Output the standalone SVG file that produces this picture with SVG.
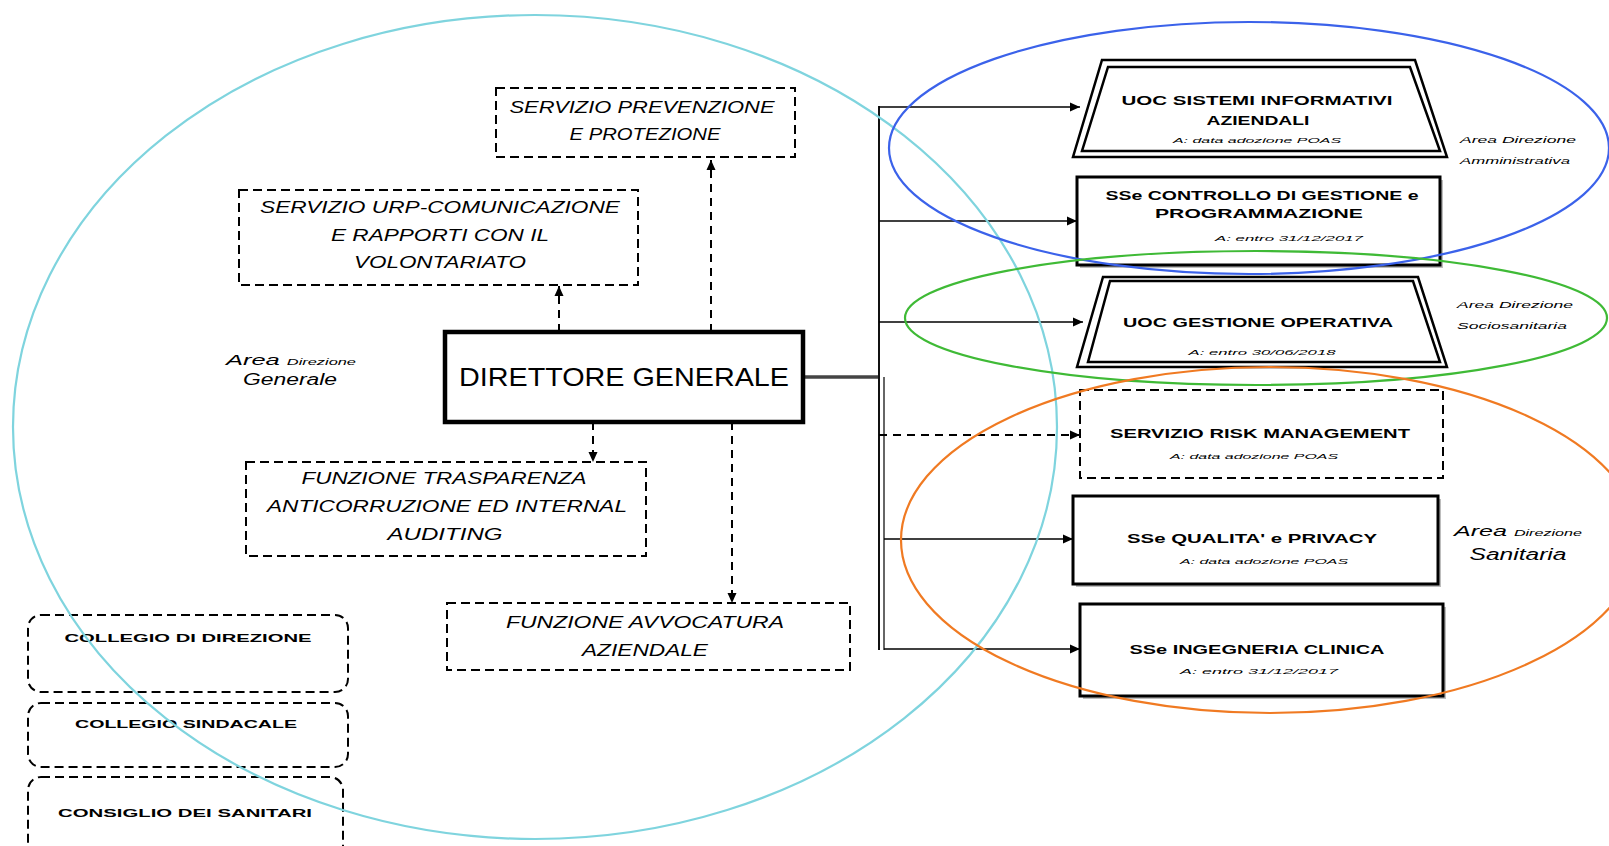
<svg xmlns="http://www.w3.org/2000/svg" width="1609" height="846" viewBox="0 0 1609 846">
<defs>
<marker id="arr" markerUnits="userSpaceOnUse" markerWidth="10" markerHeight="10" refX="10" refY="5" orient="auto">
<path d="M0,0.5 L10,5 L0,9.5 z" fill="#000"/>
</marker>
<style>
.box{fill:#fff;stroke:#000;stroke-width:3}
.dbox{fill:#fff;stroke:#000;stroke-width:2;stroke-dasharray:9 5}
.shadow{fill:#bdbdbd}
.trap{fill:#fff;stroke:#000;stroke-width:2.5}
.trapin{fill:none;stroke:#000;stroke-width:2.5}
.t{font-family:"Liberation Sans",Arial,sans-serif;font-weight:bold;font-size:13px;text-anchor:middle;fill:#000}
.s{font-family:"Liberation Sans",Arial,sans-serif;font-style:italic;font-size:7.5px;text-anchor:middle;fill:#000}
.l{font-family:"Liberation Sans",Arial,sans-serif;font-style:italic;font-size:16px;text-anchor:middle;fill:#000}
.c{font-family:"Liberation Sans",Arial,sans-serif;font-weight:bold;font-size:10px;text-anchor:middle;fill:#000}
.a{font-family:"Liberation Sans",Arial,sans-serif;font-style:italic;text-anchor:middle;fill:#000}
.con{fill:none;stroke:#000;stroke-width:1.6}
.dcon{fill:none;stroke:#000;stroke-width:2;stroke-dasharray:8 6}
.ell{fill:none;stroke-width:2.2}
</style>
</defs>
<rect width="1609" height="846" fill="#fff"/>

<g id="connectors">
<line x1="803" y1="377" x2="880" y2="377" stroke="#444" stroke-width="3.5"/>
<line x1="879" y1="106" x2="879" y2="650" stroke="#111" stroke-width="2"/>
<line x1="884" y1="377" x2="884" y2="650" stroke="#666" stroke-width="2"/>
<line class="con" x1="879" y1="107" x2="1080" y2="107" marker-end="url(#arr)"/>
<line class="con" x1="879" y1="221" x2="1077" y2="221" marker-end="url(#arr)"/>
<line class="con" x1="879" y1="322" x2="1083" y2="322" marker-end="url(#arr)"/>
<line class="dcon" x1="879" y1="435" x2="1080" y2="435" stroke-width="1.6" marker-end="url(#arr)"/>
<line class="con" x1="884" y1="539" x2="1073" y2="539" marker-end="url(#arr)"/>
<line class="con" x1="884" y1="649" x2="1080" y2="649" marker-end="url(#arr)"/>
<line class="dcon" x1="711" y1="332" x2="711" y2="160" marker-end="url(#arr)"/>
<line class="dcon" x1="559" y1="332" x2="559" y2="286" marker-end="url(#arr)"/>
<line class="dcon" x1="593" y1="422" x2="593" y2="462" marker-end="url(#arr)"/>
<line class="dcon" x1="732" y1="422" x2="732" y2="603" marker-end="url(#arr)"/>
</g>

<g id="dg">
<rect x="445" y="332" width="358" height="90" fill="#fff" stroke="#000" stroke-width="4.5"/>
<text x="624" y="386" font-family="Liberation Sans, Arial, sans-serif" font-size="26" text-anchor="middle" textLength="330" lengthAdjust="spacingAndGlyphs">DIRETTORE GENERALE</text>
</g>

<g id="prevenzione">
<rect class="dbox" x="496" y="88" width="299" height="69"/>
<text class="l" x="642" y="113" textLength="265" lengthAdjust="spacingAndGlyphs">SERVIZIO PREVENZIONE</text>
<text class="l" x="645" y="140" textLength="151" lengthAdjust="spacingAndGlyphs">E PROTEZIONE</text>
</g>

<g id="urp">
<rect class="dbox" x="239" y="190" width="399" height="95"/>
<text class="l" x="440" y="213" textLength="360" lengthAdjust="spacingAndGlyphs">SERVIZIO URP-COMUNICAZIONE</text>
<text class="l" x="440" y="241" textLength="218" lengthAdjust="spacingAndGlyphs">E RAPPORTI CON IL</text>
<text class="l" x="440" y="268" textLength="172" lengthAdjust="spacingAndGlyphs">VOLONTARIATO</text>
</g>

<g id="trasparenza">
<rect class="dbox" x="246" y="462" width="400" height="94"/>
<text class="l" x="444" y="484" textLength="285" lengthAdjust="spacingAndGlyphs">FUNZIONE TRASPARENZA</text>
<text class="l" x="447" y="512" textLength="360" lengthAdjust="spacingAndGlyphs">ANTICORRUZIONE  ED INTERNAL</text>
<text class="l" x="445" y="540" textLength="115" lengthAdjust="spacingAndGlyphs">AUDITING</text>
</g>

<g id="avvocatura">
<rect class="dbox" x="447" y="603" width="403" height="67"/>
<text class="l" x="645" y="628" textLength="278" lengthAdjust="spacingAndGlyphs">FUNZIONE AVVOCATURA</text>
<text class="l" x="645" y="656" textLength="126" lengthAdjust="spacingAndGlyphs">AZIENDALE</text>
</g>

<g id="collegio-direzione">
<rect class="dbox" x="28" y="615" width="320" height="77" rx="13"/>
<text class="c" x="188" y="642" textLength="247" lengthAdjust="spacingAndGlyphs">COLLEGIO DI DIREZIONE</text>
</g>
<g id="collegio-sindacale">
<rect class="dbox" x="28" y="703" width="320" height="64" rx="13"/>
<text class="c" x="186" y="728" textLength="222" lengthAdjust="spacingAndGlyphs">COLLEGIO SINDACALE</text>
</g>
<g id="consiglio-sanitari">
<rect class="dbox" x="28" y="777" width="315" height="90" rx="13"/>
<text class="c" x="185" y="817" textLength="254" lengthAdjust="spacingAndGlyphs">CONSIGLIO DEI SANITARI</text>
</g>

<g id="area-generale">
<text class="a" x="291" y="365" textLength="130" lengthAdjust="spacingAndGlyphs"><tspan font-size="14">Area </tspan><tspan font-size="9">Direzione</tspan></text>
<text class="a" x="290" y="385" font-size="16" textLength="94" lengthAdjust="spacingAndGlyphs">Generale</text>
</g>

<g id="sistemi">
<polygon class="trap" points="1102,60 1415,60 1447,157 1073,157"/>
<polygon class="trapin" points="1108,67 1410,67 1440,151 1082,151"/>
<text class="t" x="1257" y="105" textLength="271" lengthAdjust="spacingAndGlyphs">UOC SISTEMI INFORMATIVI</text>
<text class="t" x="1258" y="125" textLength="103" lengthAdjust="spacingAndGlyphs">AZIENDALI</text>
<text class="s" x="1257" y="143" textLength="168" lengthAdjust="spacingAndGlyphs">A: data adozione POAS</text>
</g>

<g id="controllo">
<rect class="shadow" x="1080" y="180" width="363" height="88"/>
<rect class="box" x="1077" y="177" width="363" height="88"/>
<text class="t" x="1262" y="200" textLength="313" lengthAdjust="spacingAndGlyphs">SSe CONTROLLO DI GESTIONE e</text>
<text class="t" x="1259" y="218" textLength="208" lengthAdjust="spacingAndGlyphs">PROGRAMMAZIONE</text>
<text class="s" x="1289" y="241" textLength="148" lengthAdjust="spacingAndGlyphs">A: entro 31/12/2017</text>
</g>

<g id="gestione">
<polygon class="trap" points="1103,277 1418,277 1447,367 1077,367"/>
<polygon class="trapin" points="1110,281 1413,281 1440,362 1088,362"/>
<text class="t" x="1258" y="327" textLength="270" lengthAdjust="spacingAndGlyphs">UOC GESTIONE OPERATIVA</text>
<text class="s" x="1262" y="355" textLength="147" lengthAdjust="spacingAndGlyphs">A: entro 30/06/2018</text>
</g>

<g id="risk">
<rect class="dbox" x="1080" y="390" width="363" height="88" stroke-width="2.5"/>
<text class="t" x="1260" y="438" textLength="300" lengthAdjust="spacingAndGlyphs">SERVIZIO RISK MANAGEMENT</text>
<text class="s" x="1254" y="459" textLength="168" lengthAdjust="spacingAndGlyphs">A: data adozione POAS</text>
</g>

<g id="qualita">
<rect class="shadow" x="1076" y="499" width="365" height="88"/>
<rect class="box" x="1073" y="496" width="365" height="88"/>
<text class="t" x="1252" y="543" textLength="250" lengthAdjust="spacingAndGlyphs">SSe QUALITA' e PRIVACY</text>
<text class="s" x="1264" y="564" textLength="168" lengthAdjust="spacingAndGlyphs">A: data adozione POAS</text>
</g>

<g id="ingegneria">
<rect class="shadow" x="1083" y="607" width="363" height="92"/>
<rect class="box" x="1080" y="604" width="363" height="92"/>
<text class="t" x="1257" y="654" textLength="255" lengthAdjust="spacingAndGlyphs">SSe INGEGNERIA CLINICA</text>
<text class="s" x="1259" y="674" textLength="158" lengthAdjust="spacingAndGlyphs">A: entro 31/12/2017</text>
</g>

<g id="area-amministrativa">
<text class="a" x="1518" y="143" font-size="9" textLength="116" lengthAdjust="spacingAndGlyphs">Area Direzione</text>
<text class="a" x="1515" y="164" font-size="9" textLength="110" lengthAdjust="spacingAndGlyphs">Amministrativa</text>
</g>
<g id="area-sociosanitaria">
<text class="a" x="1515" y="308" font-size="9" textLength="116" lengthAdjust="spacingAndGlyphs">Area Direzione</text>
<text class="a" x="1512" y="329" font-size="9" textLength="110" lengthAdjust="spacingAndGlyphs">Sociosanitaria</text>
</g>
<g id="area-sanitaria">
<text class="a" x="1518" y="536" textLength="128" lengthAdjust="spacingAndGlyphs"><tspan font-size="14">Area </tspan><tspan font-size="9">Direzione</tspan></text>
<text class="a" x="1518" y="560" font-size="16" textLength="97" lengthAdjust="spacingAndGlyphs">Sanitaria</text>
</g>

<g id="areas">
<ellipse class="ell" cx="535" cy="427" rx="522" ry="412" stroke="#7fd4de"/>
<ellipse class="ell" cx="1249" cy="148" rx="360" ry="126" stroke="#3b62ea"/>
<ellipse class="ell" cx="1256" cy="318" rx="351" ry="67" stroke="#3fba36"/>
<ellipse class="ell" cx="1270" cy="540" rx="369" ry="173" stroke="#f07a22"/>
</g>
</svg>
